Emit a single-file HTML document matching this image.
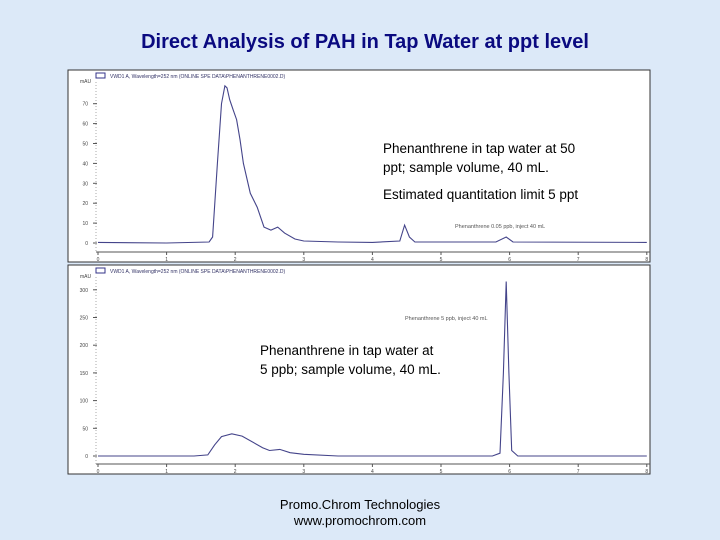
<!DOCTYPE html>
<html><head><meta charset="utf-8"><style>
body{margin:0;width:720px;height:540px;background:#dce9f8;font-family:"Liberation Sans",sans-serif;position:relative;overflow:hidden}
.t{position:absolute;white-space:nowrap}
</style></head><body>
<div class="t" style="left:0;width:730px;text-align:center;top:31px;font-size:20px;font-weight:bold;color:#0a0a80">Direct Analysis of PAH in Tap Water at ppt level</div>
<svg id="svg" width="720" height="540" style="position:absolute;left:0;top:0"></svg>
<div class="t" style="left:383px;top:139px;font-size:13.5px;line-height:19px;color:#000">Phenanthrene in tap water at 50<br>ppt; sample volume, 40 mL.</div>
<div class="t" style="left:383px;top:187px;font-size:13.5px;color:#000">Estimated quantitation limit 5 ppt</div>
<div class="t" style="left:260px;top:341px;font-size:13.5px;line-height:19px;color:#000">Phenanthrene in tap water at<br>5 ppb; sample volume, 40 mL.</div>
<div class="t" style="left:0;width:720px;text-align:center;top:497px;font-size:13px;line-height:16px;color:#000">Promo.Chrom Technologies<br>www.promochrom.com</div>
<script>
const xTicks=[0,1,2,3,4,5,6,7,8];
const topYTicks=[0,10,20,30,40,50,60,70];
const botYTicks=[0,50,100,150,200,250,300];
const topTimes=[0,1,1.62,1.67,1.74,1.8,1.85,1.88,1.92,1.97,2.02,2.07,2.12,2.22,2.32,2.42,2.52,2.62,2.72,2.87,3,3.5,4,4.4,4.47,4.54,4.62,5,5.8,5.95,6.05,8];
const topValues=[0.3,0,0.5,3,40,70,79,78,72,67,62,52,40,25,18,8,6.5,8,5,2,1,0.5,0.3,1,9,3,0.5,0.5,0.5,3,0.5,0.3];
const botTimes=[0,1.4,1.6,1.7,1.8,1.95,2.1,2.4,2.5,2.65,2.8,3,3.5,5.75,5.86,5.91,5.95,5.99,6.03,6.12,8];
const botValues=[0,0,2,20,35,40,36,15,10,12,6,3,0,0,5,150,315,150,10,0,0];
const NS='http://www.w3.org/2000/svg';
const svg=document.getElementById('svg');
function mk(t,a){const e=document.createElementNS(NS,t);for(const k in a)e.setAttribute(k,a[k]);svg.appendChild(e);return e;}
function chart(name,box,y0,yPerUnit,axisY,yTicks,times,vals){
  const sx=t=>98+t*68.6, sy=v=>y0-v*yPerUnit;
  let b=mk('rect',{x:box[0],y:box[1],width:box[2],height:box[3],fill:'#fff',stroke:'#333','stroke-width':1});
  
  
  let lg=mk('rect',{x:box[0]+28,y:box[1]+3,width:9,height:5,fill:'none',stroke:'#338'});
  
  
  let lt=mk('text',{x:box[0]+42,y:box[1]+8,'font-size':5,fill:'#336'});lt.textContent='VWD1 A, Wavelength=252 nm (ONLINE SPE DATA\\PHENANTHRENE0002.D)';
  
  
  let ax=mk('line',{x1:96,y1:axisY,x2:650,y2:axisY,stroke:'#555'});
  
  
  let ay=mk('line',{x1:96,y1:box[1]+12,x2:96,y2:axisY,stroke:'#aaa','stroke-dasharray':'1,2'});
  
  
  let u=mk('text',{x:80,y:box[1]+13,'font-size':5,fill:'#444'});u.textContent='mAU';
  
  
  xTicks.forEach(t=>{
    let tk=mk('line',{x1:sx(t),y1:axisY,x2:sx(t),y2:axisY+3,stroke:'#555'});
    
    
    let tx=mk('text',{x:sx(t),y:axisY+9,'font-size':5,fill:'#444','text-anchor':'middle'});tx.textContent=t;
    
    
  });
  yTicks.forEach(v=>{
    let tk=mk('line',{x1:93,y1:sy(v),x2:97,y2:sy(v),stroke:'#555'});
    
    
    let tx=mk('text',{x:88,y:sy(v)+2,'font-size':5,fill:'#444','text-anchor':'end'});tx.textContent=v;
    
    
  });
  let d=times.map((t,i)=>(i?'L':'M')+sx(t).toFixed(1)+','+sy(vals[i]).toFixed(1)).join('');
  let p=mk('path',{d:d,fill:'none',stroke:'#44448a','stroke-width':1.1});
  
  
}
chart('top-chromatogram',[68,70,582,192],243,1.99,252,topYTicks,topTimes,topValues);
chart('bottom-chromatogram',[68,265,582,209],456,0.554,464,botYTicks,botTimes,botValues);
let n1=mk('text',{x:455,y:228,'font-size':5.5,fill:'#555'});n1.textContent='Phenanthrene 0.05 ppb, inject 40 mL';


let n2=mk('text',{x:405,y:320,'font-size':5.5,fill:'#555'});n2.textContent='Phenanthrene 5 ppb, inject 40 mL';


</script>
</body></html>
